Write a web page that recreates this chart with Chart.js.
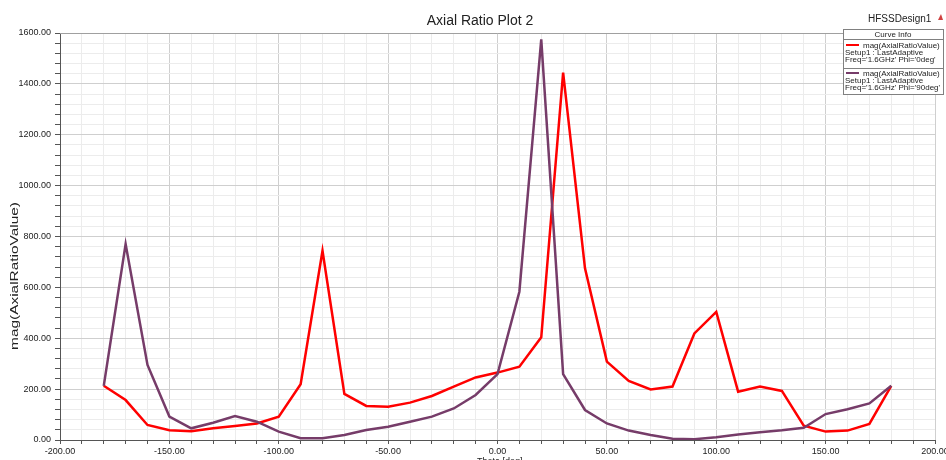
<!DOCTYPE html>
<html>
<head>
<meta charset="utf-8">
<title>Axial Ratio Plot 2</title>
<script src="https://cdn.jsdelivr.net/npm/chart.js@4.4.0/dist/chart.umd.min.js"></script>
<style>
    html, body { margin: 0; padding: 0; background: #fff; }
    #wrap { width: 946px; height: 460px; }
</style>
</head>
<body>
<div id="wrap"><canvas id="arChart" width="946" height="460"></canvas></div>
<script>
// Sweep angle (deg) and axial ratio magnitude for both phi cuts
const thetaDeg = [-180, -170, -160, -150, -140, -130, -120, -110, -100, -90, -80, -70, -60, -50, -40, -30, -20, -10,
    0, 10, 20, 30, 40, 50, 60, 70, 80, 90, 100, 110, 120, 130, 140, 150, 160, 170, 180];
const axialRatioPhi0 = [213, 157, 59, 38, 34, 46, 55, 65, 92, 219, 744, 181, 134, 131, 147, 173, 210, 246,
    265, 288, 404, 1444, 675, 308, 232, 199, 210, 419, 504, 190, 210, 193, 56, 33, 37, 63, 213];
const axialRatioPhi90 = [213, 770, 295, 92, 46, 68, 94, 72, 33, 7, 7, 20, 39, 52, 72, 92, 124, 177,
    259, 583, 1575, 259, 118, 65, 37, 20, 5, 3, 11, 22, 30, 38, 48, 102, 121, 144, 213];

// Labelled ticks; the rest of the ticks are minor
const xTickLabels = [-200, -150, -100, -50, 0, 50, 100, 150, 200];
const yTickLabels = [0, 200, 400, 600, 800, 1000, 1200, 1400, 1600];

const curveNames = ['mag(AxialRatioValue)', 'mag(AxialRatioValue)'];
const curveInfo = [
    ["Setup1 : LastAdaptive", "Freq='1.6GHz' Phi='0deg'"],
    ["Setup1 : LastAdaptive", "Freq='1.6GHz' Phi='90deg'"]
];

const FONT = '"Liberation Sans", Arial, sans-serif';
const RED = '#ff0000';
const PURPLE = '#763c69';

const toPoints = (vals) => thetaDeg.map((t, i) => ({ x: t, y: vals[i] }));
const isLabelled = (list, v) => list.includes(Math.round(v));

// Title, design name, axis titles and the curve info box
const decorPlugin = {
    id: 'decor',
    afterDraw(chart) {
        const ctx = chart.ctx;
        const area = chart.chartArea;
        ctx.save();

        // top frame line
        ctx.strokeStyle = '#a0a0a0';
        ctx.lineWidth = 1;
        ctx.beginPath();
        ctx.moveTo(area.left, area.top + 0.5);
        ctx.lineTo(area.right, area.top + 0.5);
        ctx.stroke();

        ctx.fillStyle = '#222';
        ctx.font = '14px ' + FONT;
        ctx.textAlign = 'center';
        ctx.textBaseline = 'alphabetic';
        ctx.fillText('Axial Ratio Plot 2', 480, 25);

        ctx.font = '10px ' + FONT;
        ctx.textAlign = 'left';
        ctx.fillText('HFSSDesign1', 868, 22);
        ctx.fillStyle = '#d04040';
        ctx.beginPath();
        ctx.moveTo(938, 20);
        ctx.lineTo(943, 20);
        ctx.lineTo(941, 14);
        ctx.closePath();
        ctx.fill();

        // x axis title
        ctx.fillStyle = '#222';
        ctx.font = '9px ' + FONT;
        ctx.fillText('Theta [deg]', 477, 464);

        // y axis title, stretched along its length
        ctx.save();
        ctx.translate(15, 276);
        ctx.rotate(-Math.PI / 2);
        ctx.scale(1.4, 1);
        ctx.font = '11px ' + FONT;
        ctx.textAlign = 'center';
        ctx.textBaseline = 'middle';
        ctx.fillText('mag(AxialRatioValue)', 0, 0);
        ctx.restore();

        // curve info box
        const bx = 843, by = 29, bw = 100, bh = 65;
        ctx.fillStyle = '#fff';
        ctx.fillRect(bx, by, bw, bh);
        ctx.strokeStyle = '#808080';
        ctx.strokeRect(bx + 0.5, by + 0.5, bw, bh);
        ctx.beginPath();
        ctx.moveTo(bx, 39.5); ctx.lineTo(bx + bw, 39.5);
        ctx.moveTo(bx, 68.5); ctx.lineTo(bx + bw, 68.5);
        ctx.stroke();

        ctx.fillStyle = '#222';
        ctx.font = '8px ' + FONT;
        ctx.textAlign = 'center';
        ctx.fillText('Curve Info', bx + bw / 2, 37);

        const colors = [RED, PURPLE];
        const rowTop = [48, 76];
        ctx.textAlign = 'left';
        rowTop.forEach((y, i) => {
            ctx.strokeStyle = colors[i];
            ctx.lineWidth = 2;
            ctx.beginPath();
            ctx.moveTo(846, y - 3);
            ctx.lineTo(859, y - 3);
            ctx.stroke();
            ctx.fillStyle = '#222';
            ctx.fillText(curveNames[i], 863, y);
            ctx.fillText(curveInfo[i][0], 845, y + 7);
            ctx.fillText(curveInfo[i][1], 845, y + 14);
        });

        ctx.restore();
    }
};

const chart = new Chart(document.getElementById('arChart'), {
    type: 'line',
    data: {
        datasets: [
            {
                label: curveNames[1],
                data: toPoints(axialRatioPhi90),
                borderColor: PURPLE,
                borderWidth: 2.5,
                pointRadius: 0,
                tension: 0,
                order: 0
            },
            {
                label: curveNames[0],
                data: toPoints(axialRatioPhi0),
                borderColor: RED,
                borderWidth: 2.5,
                pointRadius: 0,
                tension: 0,
                order: 1
            }
        ]
    },
    options: {
        responsive: false,
        devicePixelRatio: 1,
        animation: false,
        layout: { padding: { top: 33, right: 11, left: 0, bottom: 0 } },
        plugins: {
            legend: { display: false },
            tooltip: { enabled: false },
            title: { display: false }
        },
        scales: {
            x: {
                type: 'linear',
                min: -200,
                max: 200,
                afterFit(scale) {
                    scale.height = 20;
                    scale.paddingLeft = 0;
                    scale.paddingRight = 0;
                },
                ticks: {
                    stepSize: 10,
                    autoSkip: false,
                    maxRotation: 0,
                    padding: 2,
                    color: '#222',
                    font: { family: FONT, size: 9 },
                    callback: (v) => isLabelled(xTickLabels, v) ? v.toFixed(2) : ''
                },
                grid: {
                    color: (c) => c.tick && isLabelled(xTickLabels, c.tick.value) ? '#cfcfcf' : '#ececec',
                    tickColor: '#555',
                    tickLength: 4
                },
                border: { color: '#555', width: 1 }
            },
            y: {
                type: 'linear',
                min: 0,
                max: 1600,
                afterFit(scale) {
                    scale.width = 60;
                    scale.paddingTop = 0;
                    scale.paddingBottom = 0;
                },
                ticks: {
                    stepSize: 40,
                    autoSkip: false,
                    padding: 4,
                    color: '#222',
                    font: { family: FONT, size: 9 },
                    callback: (v) => isLabelled(yTickLabels, v) ? v.toFixed(2) : ''
                },
                grid: {
                    color: (c) => c.tick && isLabelled(yTickLabels, c.tick.value) ? '#cfcfcf' : '#ececec',
                    tickColor: '#555',
                    tickLength: 5
                },
                border: { color: '#555', width: 1 }
            }
        }
    },
    plugins: [decorPlugin]
});
</script>
</body>
</html>
